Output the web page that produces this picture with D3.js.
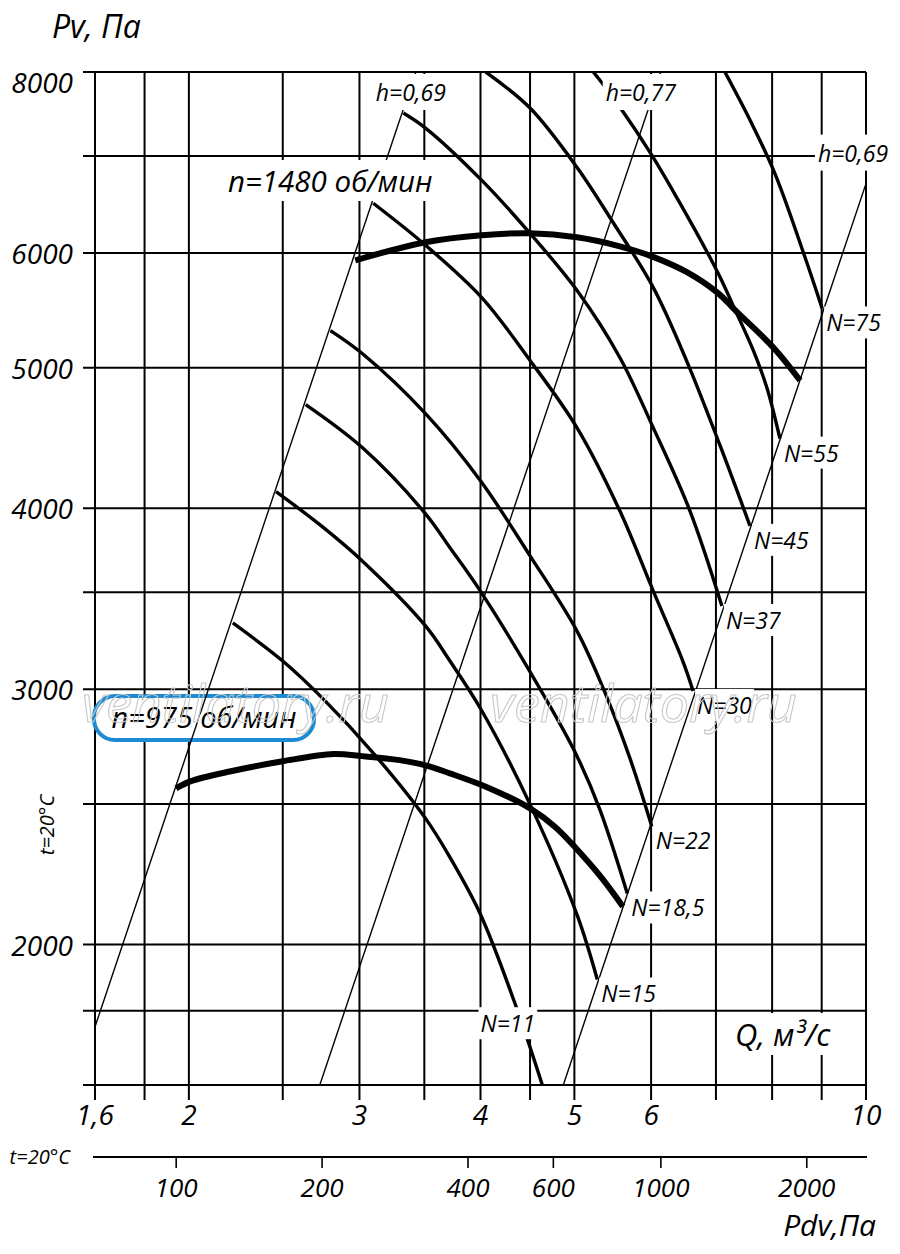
<!DOCTYPE html>
<html>
<head>
<meta charset="utf-8">
<script src="https://cdn.jsdelivr.net/npm/d3@7"></script>
<style>
body { margin: 0; background: #fff; }
text { font-family: "Open Sans", "DejaVu Sans", sans-serif; font-style: italic; fill: #000; }
</style>
</head>
<body>
<svg></svg>
<script>
// Fan chart Pv(Q), log-log grid

var qGrid = [1.6, 1.8, 2, 2.5, 3, 3.5, 4, 4.5, 5, 6, 7, 8, 9, 10];
var pvGrid = [1600, 1800, 2000, 2500, 3000, 3500, 4000, 5000, 6000, 7000, 8000];
var qLabels = [1.6, 2, 3, 4, 5, 6, 10];
var pvLabels = [2000, 3000, 4000, 5000, 6000, 8000];
var pdvLabels = [100, 200, 400, 600, 1000, 2000];

// speed curves [Q, Pv]
var n975 = [[1.94, 2563], [2.01, 2593], [2.21, 2634], [2.50, 2676], [2.82, 2707], [3.02, 2698],
    [3.30, 2681], [3.51, 2659], [3.72, 2625], [4.09, 2563], [4.50, 2483], [4.78, 2410],
    [5.03, 2327], [5.31, 2232], [5.61, 2125]];
var n1480 = [[2.97, 5931], [3.51, 6104], [4.01, 6172], [4.50, 6191], [5.03, 6152], [5.57, 6065],
    [6.01, 5969], [6.54, 5819], [7.04, 5628], [7.33, 5478], [8.04, 5156], [8.55, 4900]];

// motor power curves, N kW
var powerNames = ["11", "15", "18,5", "22", "30", "37", "45", "55", "75"];
var curveN11 = [[2.22, 3334], [2.50, 3138], [2.76, 2949], [3.10, 2711], [3.51, 2444], [3.72, 2297],
    [4.00, 2098], [4.36, 1807], [4.64, 1595]];
var curveN15 = [[2.46, 4107], [2.73, 3897], [3.02, 3679], [3.51, 3318], [3.72, 3138], [4.00, 2910],
    [4.50, 2499], [5.03, 2098], [5.28, 1892]];
var curveN185 = [[2.64, 4716], [3.02, 4405], [3.51, 3965], [3.72, 3757], [4.01, 3497], [4.72, 2920],
    [5.03, 2699], [5.31, 2480], [5.67, 2169]];
var curveN22 = [[2.80, 5305], [3.02, 5115], [3.51, 4649], [4.00, 4179], [4.50, 3709], [5.03, 3292],
    [5.38, 2982], [5.71, 2685], [6.01, 2413]];
var curveN30 = [[3.10, 6494], [3.51, 6075], [4.01, 5592], [4.50, 5059], [5.03, 4547], [5.57, 3984],
    [6.03, 3508], [6.47, 3138], [6.63, 2992]];
var curveN37 = [[3.33, 7495], [3.51, 7318], [4.01, 6737], [4.50, 6191], [5.03, 5655], [5.57, 5083],
    [6.03, 4547], [6.58, 3984], [7.10, 3425]];
var curveN45 = [[4.05, 8000], [4.50, 7555], [5.03, 6877], [5.48, 6301], [6.03, 5682], [6.54, 5042],
    [7.07, 4418], [7.59, 3890]];
var curveN55 = [[5.23, 8000], [5.34, 7861], [5.57, 7567], [6.01, 7010], [6.40, 6526], [6.90, 5960],
    [7.07, 5773], [7.33, 5478], [7.65, 5140], [7.90, 4846], [8.15, 4468]];
var curveN75 = [[7.15, 8000], [7.59, 7412], [8.05, 6812], [8.65, 5960], [9.01, 5495]];
var powerCurves = [curveN11, curveN15, curveN185, curveN22, curveN30, curveN37, curveN45, curveN55, curveN75];
var n11LabelAt = [4.0, 1740];

// efficiency lines (straight on log-log)
var effNames = ["h=0,69", "h=0,77", "h=0,69"];
var effLines = [[[1.6, 1755], [3.43, 8000]], [[2.73, 1600], [6.14, 8000]], [[4.87, 1600], [10, 6700]]];

var svgWidth = 900, svgHeight = 1254;
var plotLeft = 95, plotRight = 866, plotTop = 72, plotBottom = 1085;

var svg = d3.select("svg")
    .attr("width", svgWidth)
    .attr("height", svgHeight);

var x = d3.scaleLog().domain([1.6, 10]).range([plotLeft, plotRight]);
var y = d3.scaleLog().domain([1600, 8000]).range([plotBottom, plotTop]);
var pdvX = d3.scaleLog().domain([68, 2650]).range([plotLeft, plotRight]);

var fmt = function (d) { return String(d).replace(".", ","); };

svg.append("clipPath").attr("id", "plot")
    .append("rect")
    .attr("x", plotLeft).attr("y", plotTop)
    .attr("width", plotRight - plotLeft).attr("height", plotBottom - plotTop);

// grid
svg.selectAll(".vgrid")
    .data(qGrid)
    .enter()
    .append("line")
    .attr("x1", function (d) { return x(d); })
    .attr("x2", function (d) { return x(d); })
    .attr("y1", plotTop)
    .attr("y2", plotBottom + 15)
    .attr("stroke", "#000")
    .attr("stroke-width", 2);

svg.selectAll(".hgrid")
    .data(pvGrid)
    .enter()
    .append("line")
    .attr("x1", plotLeft - 12)
    .attr("x2", plotRight)
    .attr("y1", function (d) { return y(d); })
    .attr("y2", function (d) { return y(d); })
    .attr("stroke", "#000")
    .attr("stroke-width", 2);

// blue box for n=975
svg.append("rect")
    .attr("x", 94).attr("y", 696)
    .attr("width", 220).attr("height", 44)
    .attr("rx", 21)
    .attr("fill", "#fff")
    .attr("stroke", "#1b8bd3")
    .attr("stroke-width", 4);

var plot = svg.append("g").attr("clip-path", "url(#plot)");

var line = d3.line()
    .x(function (d) { return x(d[0]); })
    .y(function (d) { return y(d[1]); });

var smooth = d3.line()
    .x(function (d) { return x(d[0]); })
    .y(function (d) { return y(d[1]); })
    .curve(d3.curveCatmullRom.alpha(0.5));

plot.selectAll(".eff")
    .data(effLines)
    .enter()
    .append("path")
    .attr("d", line)
    .attr("fill", "none")
    .attr("stroke", "#000")
    .attr("stroke-width", 1.4);

plot.selectAll(".power")
    .data(powerCurves)
    .enter()
    .append("path")
    .attr("d", smooth)
    .attr("fill", "none")
    .attr("stroke", "#000")
    .attr("stroke-width", 3.4);

plot.selectAll(".speed")
    .data([n975, n1480])
    .enter()
    .append("path")
    .attr("d", smooth)
    .attr("fill", "none")
    .attr("stroke", "#000")
    .attr("stroke-width", 6);

// label with white background
function label(px, py, txt, size, anchor, padX, padY) {
    var g = svg.append("g");
    var t = g.append("text")
        .attr("x", px).attr("y", py)
        .attr("font-size", size)
        .attr("text-anchor", anchor || "start")
        .text(txt);
    var b = t.node().getBBox();
    g.insert("rect", function () { return t.node(); })
        .attr("x", b.x - padX).attr("y", b.y - padY)
        .attr("width", b.width + 2 * padX).attr("height", b.height + 2 * padY)
        .attr("fill", "#fff");
    return t;
}

var effOffsets = [[-5, 29], [-20, 29], [-13, -22]];
effLines.forEach(function (l, i) {
    var end = l[1];
    label(x(end[0]) + effOffsets[i][0], y(end[1]) + effOffsets[i][1], effNames[i], 23, "middle", 3, 2);
});

powerCurves.forEach(function (c, i) {
    var end = i === 0 ? n11LabelAt : c[c.length - 1];
    var dx = i === 0 ? 0 : 4, dy = i === 0 ? 0 : 23;
    label(x(end[0]) + dx, y(end[1]) + dy, "N=" + powerNames[i], 23, "start", 2, 0);
});

label(228, 192, "n=1480 об/мин", 29.5, "start", 3, 0);

svg.append("text")
    .attr("x", 204).attr("y", 728)
    .attr("font-size", 29)
    .attr("text-anchor", "middle")
    .attr("stroke", "#fff").attr("stroke-width", 6)
    .attr("paint-order", "stroke")
    .text("n=975 об/мин");

// axis labels
svg.selectAll(".pvlab")
    .data(pvLabels)
    .enter()
    .append("text")
    .attr("x", 73)
    .attr("y", function (d) { return d === 8000 ? y(d) + 21 : y(d) + 11; })
    .attr("font-size", 28)
    .attr("text-anchor", "end")
    .text(function (d) { return d; });

svg.selectAll(".qlab")
    .data(qLabels)
    .enter()
    .append("text")
    .attr("x", function (d) { return x(d); })
    .attr("y", 1125)
    .attr("font-size", 28)
    .attr("text-anchor", "middle")
    .text(fmt);

svg.append("text").attr("x", 52).attr("y", 38).attr("font-size", 32).text("Pv, Па");
label(735, 1046, "Q, м³/с", 31, "start", 2, 0);

svg.append("text")
    .attr("transform", "translate(54,825) rotate(-90)")
    .attr("font-size", 20)
    .attr("text-anchor", "middle")
    .text("t=20°C");

// Pdv scale
svg.append("line")
    .attr("x1", plotLeft - 2).attr("x2", plotRight + 1)
    .attr("y1", 1157).attr("y2", 1157)
    .attr("stroke", "#000").attr("stroke-width", 2);

svg.selectAll(".pdvtick")
    .data(pdvLabels)
    .enter()
    .append("line")
    .attr("x1", function (d) { return pdvX(d); })
    .attr("x2", function (d) { return pdvX(d); })
    .attr("y1", 1157).attr("y2", 1168)
    .attr("stroke", "#000").attr("stroke-width", 1.6);

svg.selectAll(".pdvlab")
    .data(pdvLabels)
    .enter()
    .append("text")
    .attr("x", function (d) { return pdvX(d); })
    .attr("y", 1197)
    .attr("font-size", 26)
    .attr("text-anchor", "middle")
    .text(function (d) { return d; });

svg.append("text").attr("x", 70).attr("y", 1164).attr("font-size", 20)
    .attr("text-anchor", "end").text("t=20°C");
svg.append("text").attr("x", 876).attr("y", 1236).attr("font-size", 30)
    .attr("text-anchor", "end").text("Pdv,Па");

// watermark
svg.selectAll(".wm")
    .data([82, 490])
    .enter()
    .append("text")
    .attr("x", function (d) { return d; })
    .attr("y", 722)
    .attr("font-size", 52)
    .style("fill", "none")
    .attr("stroke", "#c8c8c8")
    .attr("stroke-width", 1.1)
    .text("ventilatory.ru");
</script>
</body>
</html>
